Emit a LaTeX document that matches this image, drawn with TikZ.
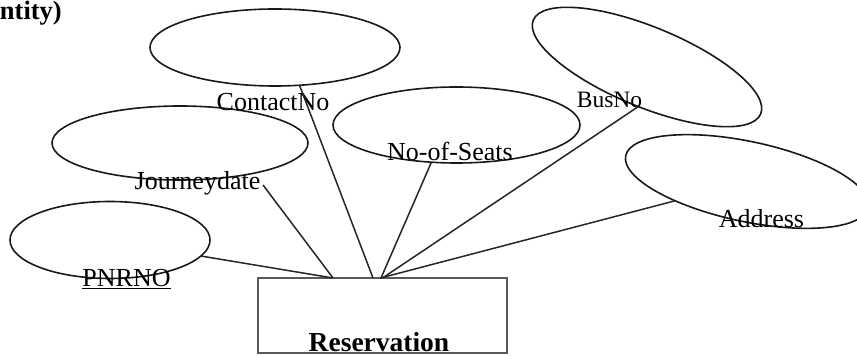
\documentclass[tikz,border=0pt]{standalone}
\usepackage{fontspec}
\setmainfont{Liberation Serif}
\usetikzlibrary{shapes.geometric}
\begin{document}
\begin{tikzpicture}[x=1pt,y=1pt,
  attr/.style={ellipse, draw=black!90, line width=1.6pt, inner sep=0pt, outer sep=0pt},
  lab/.style={anchor=base, inner sep=0pt, outer sep=0pt, font=\fontsize{26}{30}\selectfont},
  conn/.style={line width=1.5pt, draw=black!85}]
\useasboundingbox (0,0) rectangle (857,356);

% heading fragment
\node[anchor=base east, inner sep=0pt, font=\fontsize{26.5}{30}\selectfont\bfseries] (head) at (62,336) {ntity)};

% entity
\node[draw=black!65, line width=1.7pt, minimum width=249pt, minimum height=75pt, inner sep=0pt, outer sep=0pt] (res) at (382.5,40.5) {};
\node[anchor=base, inner sep=0pt, font=\fontsize{27.5}{30}\selectfont\bfseries] (reslab) at (379,4.5) {Reservation};

% attributes
\node[attr, minimum width=250pt, minimum height=77pt] (cn) at (275,308.5) {};
\node[attr, minimum width=256pt, minimum height=74pt] (jd) at (180,213) {};
\node[attr, minimum width=247pt, minimum height=76pt] (ns) at (456.5,231) {};
\node[attr, minimum width=246pt, minimum height=80pt, rotate=-22.4] (bn) at (647,289) {};
\node[attr, minimum width=248pt, minimum height=80pt, rotate=-12] (ad) at (747,174.5) {};
\node[attr, minimum width=200pt, minimum height=77pt] (pn) at (110,116) {};

% labels
\node[lab] (cnlab) at (273,245) {ContactNo};
\node[lab] (jdlab) at (197.5,166) {Journeydate};
\node[lab] (nslab) at (450,195) {No-of-Seats};
\node[lab, font=\fontsize{23.5}{28}\selectfont] (bnlab) at (609.5,248) {BusNo};
\node[lab] (adlab) at (761.5,128) {Address};
\node[lab] (pnlab) at (126.5,69) {\underline{PNRNO}};

\coordinate (jdend) at (263,171);

% connectors
\draw[conn] (pn.-10) -- ([xshift=-49.5pt]res.north);
\draw[conn] (jdend) -- ([xshift=-49.5pt]res.north);
\draw[conn] (cn.-57) -- ([xshift=-9.5pt]res.north);
\draw[conn] (ns.236.6) -- ([xshift=-1.5pt]res.north);
\draw[conn] (bn.-80.7) -- ([xshift=0pt]res.north);
\draw[conn] (ad.207.5) -- ([xshift=-2pt]res.north);
\end{tikzpicture}
\end{document}
